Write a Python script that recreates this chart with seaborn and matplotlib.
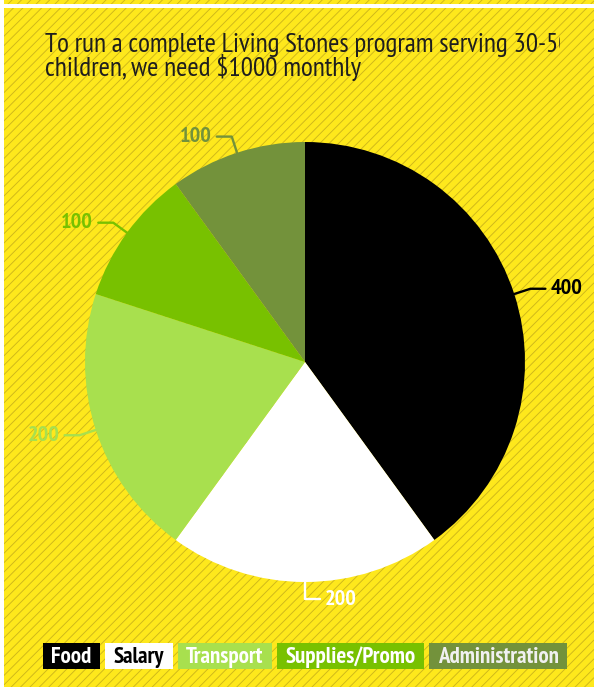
import numpy as np
import matplotlib
matplotlib.use("Agg")
import matplotlib.pyplot as plt
from matplotlib.patches import Rectangle
import seaborn as sns

# ---- data ----
categories = ["Food", "Salary", "Transport", "Supplies/Promo", "Administration"]
values = [400, 200, 200, 100, 100]
colors = ["#000000", "#FFFFFF", "#A8E04E", "#78C100", "#73923B"]
label_colors = ["#000000", "#FFFFFF", "#A8E04E", "#78C100", "#73923B"]
legend_text_colors = ["#FFFFFF", "#000000", "#FFFFFF", "#FFFFFF", "#F0F0F0"]
title_text = "To run a complete Living Stones program serving 30-50\nchildren, we need $1000 monthly"

sns.set_theme(style="white")
FONT = ["PT Sans Narrow", "DejaVu Sans"]
plt.rcParams["font.family"] = FONT

W, H = 594, 687
DPI = 100
YELLOW = "#FEE81C"
STRIPE = "#CDB61B"

fig = plt.figure(figsize=(W / DPI, H / DPI), dpi=DPI, facecolor=YELLOW)

# background with diagonal stripes (pixel coordinates)
bg = fig.add_axes([0, 0, 1, 1])
bg.set_xlim(0, W)
bg.set_ylim(0, H)
bg.axis("off")
bg.set_facecolor(YELLOW)
for c in np.arange(-W, H + 10, 9.4):
    bg.plot([0, W], [c, c + W], color=STRIPE, lw=0.65, solid_capstyle="butt", zorder=0)
bg.add_patch(Rectangle((0, 0), 4, H, color="white", zorder=1, lw=0))
bg.add_patch(Rectangle((0, H - 8), W, 4, color="white", zorder=1, lw=0))

# title (clipped on the right like the reference)
clip = Rectangle((0, 0), 560, H, transform=bg.transData, visible=False)
bg.add_patch(clip)
t = bg.text(45, H - 76, title_text, fontsize=19.6, color="#1E1E1E", ha="left",
            va="baseline", linespacing=0.85, zorder=3)
t.set_clip_path(clip)
t.set_clip_on(True)

# pie
R_PX = 220.0
cx, cy = 305.0, H - 362.0
half = 260.0
ax = fig.add_axes([(cx - half) / W, (cy - half) / H, 2 * half / W, 2 * half / H])
wedges, _ = ax.pie(values, colors=colors, startangle=90, counterclock=False, radius=1.0,
                   wedgeprops=dict(linewidth=0))
ax.set_xlim(-half / R_PX, half / R_PX)
ax.set_ylim(-half / R_PX, half / R_PX)
ax.set_aspect("equal")
ax.axis("off")

px = 1.0 / R_PX
for w, v, lc in zip(wedges, values, label_colors):
    mid = np.deg2rad((w.theta1 + w.theta2) / 2.0)
    cs, sn = np.cos(mid), np.sin(mid)
    edge = (cs, sn)
    elbow = (cs * (1 + 17 * px), sn * (1 + 17 * px))
    side = 1 if cs > -0.01 else -1
    end = (elbow[0] + side * 15 * px, elbow[1])
    ax.plot([edge[0], elbow[0], end[0]], [edge[1], elbow[1], end[1]], color=lc, lw=1.7,
            clip_on=False, solid_joinstyle="round")
    ax.text(end[0] + side * 5 * px, end[1], f"{v}", color=lc, fontsize=16, fontweight="bold",
            ha="left" if side > 0 else "right", va="center", clip_on=False)

# legend as coloured boxes
fig.canvas.draw()
renderer = fig.canvas.get_renderer()
x = 43.0
box_bottom, box_h = H - 669, 26
pad, gap = 8.5, 5
for cat, col, tc in zip(categories, colors, legend_text_colors):
    tx = bg.text(x + pad, H - 663, cat, fontsize=16.5, fontweight="bold", color=tc,
                 ha="left", va="baseline", zorder=5)
    bb = tx.get_window_extent(renderer)
    wbox = bb.width + 2 * pad
    bg.add_patch(Rectangle((x, box_bottom), wbox, box_h, facecolor=col, edgecolor="none", zorder=4))
    x = x + wbox + gap

fig.savefig("out.png", dpi=DPI, facecolor=YELLOW)
